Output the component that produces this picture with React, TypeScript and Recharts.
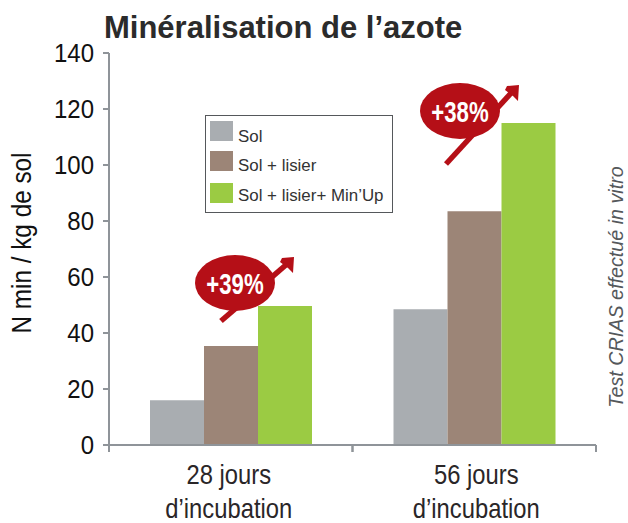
import { BarChart, Bar, XAxis, YAxis, Legend } from "recharts";

const categories = ["28 jours\nd’incubation", "56 jours\nd’incubation"];
const solValues = [16, 48.5];
const lisierValues = [35.4, 83.5];
const minUpValues = [49.6, 115];
const yTicks = [0, 20, 40, 60, 80, 100, 120, 140];

const GREY = "#a9adb1";
const BROWN = "#9c8577";
const GREEN = "#9bcb43";
const RED = "#b50f17";
const AXIS = "#8f9499";
const INK = "#2a2628";
const SANS = "'Liberation Sans', sans-serif";

const chartData = categories.map((name, i) => ({
  name,
  sol: solValues[i],
  lisier: lisierValues[i],
  minUp: minUpValues[i],
}));

// no narrow font available here, so the text is squeezed horizontally
// tick marks sit on the band edges in the original, so they are drawn here too
const XTick = ({ x, y, payload, index }: any) => {
  const lines = String(payload.value).split("\n");
  const half = 121.75;
  const axisY = y - 9;
  return (
    <g>
      <line x1={x - half} x2={x - half} y1={axisY} y2={axisY + 7} stroke={AXIS} strokeWidth={2} />
      <line x1={x + half} x2={x + half} y1={axisY} y2={axisY + 7} stroke={AXIS} strokeWidth={2} />
      <g transform={`translate(${index === 0 ? x - 2 : x + 2} ${y}) scale(0.85 1)`}>
        <text textAnchor="middle" fontFamily={SANS} fontSize={28} fill={INK}>
          <tspan x={0} y={30}>{lines[0]}</tspan>
          <tspan x={0} y={64}>{lines[1]}</tspan>
        </text>
      </g>
    </g>
  );
};

const YTick = ({ x, y, payload }: any) => (
  <g transform={`translate(${x - 7} ${y + 9}) scale(0.96 1)`}>
    <text textAnchor="end" fontFamily={SANS} fontSize={25} fill="#111">
      {payload.value}
    </text>
  </g>
);

const LegendBox = ({ payload }: any) => (
  <div
    style={{
      boxSizing: "border-box",
      width: 188,
      height: 98,
      border: "1.5px solid #55585b",
      background: "#fff",
      position: "relative",
    }}
  >
    {(payload || []).map((entry: any, i: number) => (
      <div key={entry.value}>
        <div
          style={{
            position: "absolute",
            left: 4,
            top: [5, 35, 67][i],
            width: 23,
            height: 20,
            background: entry.color,
          }}
        />
        <div
          style={{
            position: "absolute",
            left: 32,
            top: [12, 41, 71][i],
            fontFamily: SANS,
            fontSize: 16.9,
            lineHeight: "18px",
            color: "#333",
            whiteSpace: "nowrap",
          }}
        >
          {entry.value}
        </div>
      </div>
    ))}
  </div>
);

const Badge = ({ cx, cy, tail, label }: { cx: number; cy: number; tail: number; label: string }) => (
  <g>
    <line x1={cx - 14} y1={cy + tail} x2={cx + 52} y2={cy - 19} stroke={RED} strokeWidth={5.5} />
    <polygon
      points={`${cx + 47},${cy - 25} ${cx + 59},${cy - 26} ${cx + 58},${cy - 10} ${cx + 53},${cy - 15} ${cx + 45},${cy - 21}`}
      fill={RED}
    />
    <ellipse cx={cx} cy={cy} rx={40} ry={28} fill={RED} />
    <g transform={`translate(${cx} ${cy + 11}) scale(0.74 1)`}>
      <text textAnchor="middle" fontFamily={SANS} fontWeight="bold" fontSize={30} fill="#fff">
        {label}
      </text>
    </g>
  </g>
);

export default function App() {
  return (
    <div style={{ position: "absolute", left: 0, top: 0, width: 628, height: 523, background: "#fff" }}>
      <BarChart
        width={628}
        height={523}
        data={chartData}
        barGap={0}
        barSize={54}
        margin={{ top: 53, right: 32, bottom: 0, left: 49 }}
      >
        <XAxis
          dataKey="name"
          stroke={AXIS}
          strokeWidth={2}
          tickLine={false}
          tickSize={7}
          tick={<XTick />}
          interval={0}
          height={78}
        />
        <YAxis
          domain={[0, 140]}
          ticks={yTicks}
          stroke={AXIS}
          strokeWidth={2}
          tickSize={6}
          tick={<YTick />}
          width={60}
        />
        <Legend
          layout="vertical"
          align="center"
          verticalAlign="middle"
          itemSorter={null}
          content={<LegendBox />}
          wrapperStyle={{ position: "absolute", left: 205, top: 115, width: 188, height: 98 }}
        />
        <Bar dataKey="sol" name="Sol" fill={GREY} isAnimationActive={false} />
        <Bar dataKey="lisier" name="Sol + lisier" fill={BROWN} isAnimationActive={false} />
        <Bar dataKey="minUp" name="Sol + lisier+ Min’Up" fill={GREEN} isAnimationActive={false} />
      </BarChart>
      <svg width={628} height={523} style={{ position: "absolute", left: 0, top: 0, pointerEvents: "none" }}>
        <text x={104} y={38} fontFamily={SANS} fontWeight="bold" fontSize={31} fill="#2b2b2b">
          Minéralisation de l’azote
        </text>
        <g transform="translate(31 243) rotate(-90) scale(0.9 1)">
          <text textAnchor="middle" fontFamily={SANS} fontSize={27} fill="#111">
            N min / kg de sol
          </text>
        </g>
        <g transform="translate(623 287) rotate(-90) scale(0.94 1)">
          <text textAnchor="middle" fontFamily={SANS} fontStyle="italic" fontSize={21} fill="#55585b">
            Test CRIAS effectué in vitro
          </text>
        </g>
        <Badge cx={235} cy={283} tail={38} label="+39%" />
        <Badge cx={460} cy={111} tail={53} label="+38%" />
      </svg>
    </div>
  );
}
